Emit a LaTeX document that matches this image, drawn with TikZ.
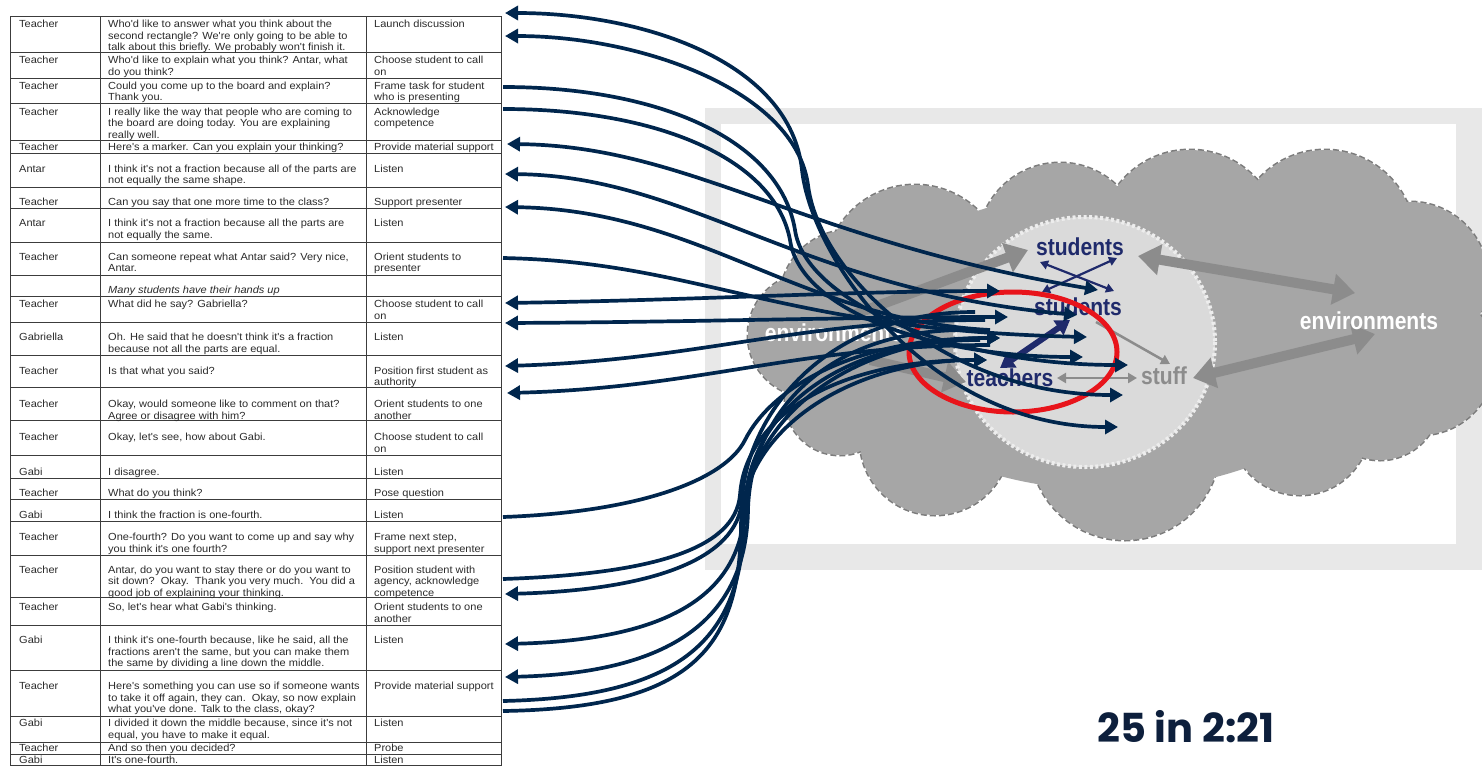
\documentclass[tikz,border=0pt]{standalone}
\usepackage{fontspec}
\setmainfont{Liberation Sans}
\newfontfamily\tabfont{Liberation Sans}[FakeStretch=1.07]
\newfontfamily\lblfont{Liberation Sans}[FakeStretch=0.86]
\newfontfamily\bigfont{Poppins}
\usetikzlibrary{arrows.meta}
\definecolor{navy}{HTML}{00264D}
\definecolor{tabtext}{HTML}{2B2B2B}
\definecolor{tabline}{HTML}{3C3C3C}
\definecolor{cloudfill}{HTML}{A6A6A6}
\definecolor{cloudedge}{HTML}{7C7C7C}
\definecolor{innerfill}{HTML}{DADADA}
\definecolor{inneredge}{HTML}{EDEDED}
\definecolor{framegray}{HTML}{E8E8E8}
\definecolor{garrow}{HTML}{8C8C8C}
\definecolor{lblblue}{HTML}{1F2A6B}
\definecolor{redring}{HTML}{E8141B}
\definecolor{countblue}{HTML}{0D1F3C}
\tikzset{
  cell/.style={inner sep=0pt, align=left, text=tabtext, font=\tabfont\fontsize{10.3}{11.5}\selectfont},
  lbl/.style={inner sep=0pt, font=\lblfont\bfseries\fontsize{24.5}{24.5}\selectfont},
  nv/.style={draw=navy, line width=3.7pt, >={Triangle[length=13pt,width=14pt]}},
  garr/.style={draw=garrow, line width=10pt, >={Triangle[length=22pt,width=30pt]}},
  gthin/.style={draw=garrow, line width=2.5pt, >={Triangle[length=9pt,width=10pt]}},
  barr/.style={draw=lblblue, line width=2.2pt, >={Triangle[length=8pt,width=9pt]}},
}
\newcommand\trow[5]{%
  \node[cell,anchor=north west] (#1-a) at (19,#2-4.35) {\strut #3};
  \node[cell,anchor=north west] (#1-b) at (108,#2-4.35) {\strut #4};
  \node[cell,anchor=north west] (#1-c) at (374,#2-4.35) {\strut #5};
}
\begin{document}
\begin{tikzpicture}[x=1pt,y=-1pt]
\useasboundingbox (0,0) rectangle (1482,766);
\fill[white] (0,0) rectangle (1482,766);

% ---------- picture frame ----------
\fill[framegray] (705,108) rectangle (1482,570);
\fill[white] (721,124) rectangle (1456,544);

% ---------- outer cloud ----------
\foreach \cx/\cy/\r in {915/275/90, 1060/245/82, 1190/240/90, 1325/240/90, 1410/280/78, 1420/360/75, 1300/425/70, 1380/400/60, 1125/445/95, 935/440/75, 840/400/55, 810/335/62, 850/300/70}
  \draw[cloudedge, line width=3pt, dash pattern=on 6pt off 3pt] (\cx,\cy) circle[radius=\r];
\foreach \cx/\cy/\r in {915/275/90, 1060/245/82, 1190/240/90, 1325/240/90, 1410/280/78, 1420/360/75, 1300/425/70, 1380/400/60, 1125/445/95, 935/440/75, 840/400/55, 810/335/62, 850/300/70}
  \fill[cloudfill] (\cx,\cy) circle[radius=\r];
\fill[cloudfill] (1110,340) ellipse[x radius=260, y radius=150];

% ---------- inner cloud ----------
\draw[inneredge, fill=innerfill, line width=4pt, dash pattern=on 3pt off 2.5pt] (1085,342) ellipse[x radius=130, y radius=125];

% ---------- grey arrows ----------
\coordinate (g1s) at (850,316); \coordinate (g1e) at (1028,250);
\coordinate (g2s) at (870,360); \coordinate (g2e) at (966,382);
\coordinate (g3s) at (1138,256); \coordinate (g3e) at (1355,293);
\coordinate (g4s) at (1193,378); \coordinate (g4e) at (1375,334);
\coordinate (g5s) at (1057,378); \coordinate (g5e) at (1137,378);
\coordinate (g6s) at (1096,322); \coordinate (g6e) at (1170,364);
\draw[garr,->] (g1s) -- (g1e);
\draw[garr,->] (g2s) -- (g2e);
\draw[garr,<->] (g3s) -- (g3e);
\draw[garr,<->] (g4s) -- (g4e);
\draw[gthin,<->] (g5s) -- (g5e);
\draw[gthin,->] (g6s) -- (g6e);

% ---------- labels ----------
\node[lbl, text=lblblue] (stuA) at (1080,247) {students};
\node[lbl, text=lblblue] (stuB) at (1078,307) {students};
\node[lbl, text=lblblue] (tea) at (1010,378) {teachers};
\node[lbl, text=garrow] (stf) at (1164,376) {stuff};
\node[lbl, text=white] (envR) at (1369,321) {environments};
\node[lbl, text=white] (envL) at (834,333) {environments};

% ---------- blue arrows ----------
\coordinate (b1s) at (1040,262); \coordinate (b1e) at (1114,291);
\coordinate (b2s) at (1117,258); \coordinate (b2e) at (1042,292);
\coordinate (b3s) at (1000,368); \coordinate (b3e) at (1070,320);
\draw[barr,<->] (b1s) -- (b1e);
\draw[barr,<->] (b2s) -- (b2e);
\draw[draw=lblblue, line width=6pt, {Triangle[length=14pt,width=17pt]}-{Triangle[length=14pt,width=17pt]}] (b3s) -- (b3e);

% ---------- red ring ----------
\draw[redring, line width=5pt] (1013,352) ellipse[x radius=104, y radius=60];

% ---------- table ----------
\foreach \yy in {16,52,78,103,140,153,187,208,242,275,296,322,355,387,420,455,478,499,521,555,597,625,670,716,742,754,765.5}
  \draw[tabline, line width=0.9pt] (10,\yy) -- (501,\yy);
\foreach \xx in {10,100,366,501}
  \draw[tabline, line width=0.9pt] (\xx,16) -- (\xx,765.5);

\trow{r1}{24}{Teacher}{Who'd like to answer what you think about the\\second rectangle? We're only going to be able to\\talk about this briefly. We probably won't finish it.}{Launch discussion}
\trow{r2}{60}{Teacher}{Who'd like to explain what you think? Antar, what\\do you think?}{Choose student to call\\on}
\trow{r3}{85.5}{Teacher}{Could you come up to the board and explain?\\Thank you.}{Frame task for student\\who is presenting}
\trow{r4}{111.5}{Teacher}{I really like the way that people who are coming to\\the board are doing today. You are explaining\\really well.}{Acknowledge\\competence}
\trow{r5}{146.5}{Teacher}{Here's a marker. Can you explain your thinking?}{Provide material support}
\trow{r6}{168.5}{Antar}{I think it's not a fraction because all of the parts are\\not equally the same shape.}{Listen}
\trow{r7}{201.5}{Teacher}{Can you say that one more time to the class?}{Support presenter}
\trow{r8}{223}{Antar}{I think it's not a fraction because all the parts are\\not equally the same.}{Listen}
\trow{r9}{256.5}{Teacher}{Can someone repeat what Antar said? Very nice,\\Antar.}{Orient students to\\presenter}
\trow{r10}{290}{}{\itshape Many students have their hands up}{}
\trow{r11}{304}{Teacher}{What did he say? Gabriella?}{Choose student to call\\on}
\trow{r12}{337}{Gabriella}{Oh. He said that he doesn't think it's a fraction\\because not all the parts are equal.}{Listen}
\trow{r13}{370.5}{Teacher}{Is that what you said?}{Position first student as\\authority}
\trow{r14}{404}{Teacher}{Okay, would someone like to comment on that?\\Agree or disagree with him?}{Orient students to one\\another}
\trow{r15}{437}{Teacher}{Okay, let's see, how about Gabi.}{Choose student to call\\on}
\trow{r16}{472}{Gabi}{I disagree.}{Listen}
\trow{r17}{493}{Teacher}{What do you think?}{Pose question}
\trow{r18}{514.5}{Gabi}{I think the fraction is one-fourth.}{Listen}
\trow{r19}{537}{Teacher}{One-fourth? Do you want to come up and say why\\you think it's one fourth?}{Frame next step,\\support next presenter}
\trow{r20}{569.5}{Teacher}{Antar, do you want to stay there or do you want to\\sit down?\ \ Okay.\ \ Thank you very much.\ \ You did a\\good job of explaining your thinking.}{Position student with\\agency, acknowledge\\competence}
\trow{r21}{607}{Teacher}{So, let's hear what Gabi's thinking.}{Orient students to one\\another}
\trow{r22}{640}{Gabi}{I think it's one-fourth because, like he said, all the\\fractions aren't the same, but you can make them\\the same by dividing a line down the middle.}{Listen}
\trow{r23}{686}{Teacher}{Here's something you can use so if someone wants\\to take it off again, they can.\ \ Okay, so now explain\\what you've done. Talk to the class, okay?}{Provide material support}
\trow{r24}{723}{Gabi}{I divided it down the middle because, since it's not\\equal, you have to make it equal.}{Listen}
\trow{r25}{748}{Teacher}{And so then you decided?}{Probe}
\trow{r26}{760}{Gabi}{It's one-fourth.}{Listen}

% ---------- connector ends ----------
\coordinate (t1) at (505,13);  \coordinate (t2) at (505,36);
\coordinate (t3) at (503,87);  \coordinate (t4) at (503,109);
\coordinate (t5) at (507,144); \coordinate (t6) at (505,174);
\coordinate (t7) at (505,207); \coordinate (t8) at (503,258);
\coordinate (t9) at (505,303); \coordinate (t10) at (505,323);
\coordinate (t11) at (505,366); \coordinate (t12) at (507,393);
\coordinate (t13) at (503,517); \coordinate (t14) at (503,579);
\coordinate (t15) at (505,594); \coordinate (t16) at (505,644);
\coordinate (t17) at (505,677); \coordinate (t18) at (503,701);
\coordinate (t19) at (503,711);
\coordinate (ea) at (1098,290); \coordinate (eb) at (1000,291);
\coordinate (ec) at (1077,315); \coordinate (ed) at (1008,317);
\coordinate (ee) at (1087,337); \coordinate (ef) at (1000,338);
\coordinate (eg) at (1083,357); \coordinate (eh) at (1128,365);
\coordinate (ei) at (987,360);  \coordinate (ej) at (1123,395);
\coordinate (ek) at (1118,427);
\coordinate (n7) at (990,330);  \coordinate (n11) at (985,320);
\coordinate (n12) at (990,345); \coordinate (n15) at (975,312);
\coordinate (n16) at (980,340); \coordinate (n17) at (965,330);

% ---------- navy connectors ----------
\draw[nv,<->] (t1) .. controls (640,13) and (790,60) .. (802,170) .. controls (812,260) and (930,427) .. (ek);
\draw[nv,<->] (t2) .. controls (640,36) and (795,90) .. (808,185) .. controls (818,270) and (940,395) .. (ej);
\draw[nv,->] (t3) .. controls (660,87) and (780,140) .. (795,230) .. controls (805,300) and (950,365) .. (eh);
\draw[nv,->] (t4) .. controls (660,109) and (775,160) .. (790,240) .. controls (800,310) and (930,357) .. (eg);
\draw[nv,<->] (t5) .. controls (690,146) and (800,240) .. (ea);
\draw[nv,<->] (t6) .. controls (690,176) and (800,290) .. (ec);
\draw[nv,<-] (t7) .. controls (700,210) and (800,320) .. (n7);
\draw[nv,->] (t8) .. controls (700,262) and (780,330) .. (ee);
\draw[nv,<->] (t9) .. controls (700,300) and (850,291) .. (eb);
\draw[nv,<->] (t10) .. controls (700,322) and (850,317) .. (ed);
\draw[nv,<-] (t11) .. controls (700,360) and (800,320) .. (n11);
\draw[nv,<-] (t12) .. controls (700,388) and (800,345) .. (n12);
\draw[nv,->] (t13) .. controls (640,512) and (725,480) .. (745,440) .. controls (770,390) and (850,338) .. (ef);
\draw[nv,->] (t14) .. controls (650,574) and (735,550) .. (740,495) .. controls (745,420) and (830,360) .. (ei);
\draw[nv,<-] (t15) .. controls (650,590) and (738,560) .. (742,500) .. controls (746,420) and (820,312) .. (n15);
\draw[nv,<-] (t16) .. controls (660,640) and (742,600) .. (745,505) .. controls (748,420) and (830,340) .. (n16);
\draw[nv,<-] (t17) .. controls (670,673) and (746,620) .. (748,510) .. controls (750,420) and (820,330) .. (n17);
\draw[nv,->] (t18) .. controls (680,697) and (742,640) .. (744,520) .. controls (746,420) and (850,338) .. (ef);
\draw[nv,->] (t19) .. controls (690,708) and (740,650) .. (741,525) .. controls (742,430) and (850,360) .. (ei);

% ---------- count ----------
\node[inner sep=0pt, text=countblue, font=\bigfont\bfseries\fontsize{40}{40}\selectfont] (count) at (1186,727) {25 in 2:21};
\end{tikzpicture}
\end{document}
